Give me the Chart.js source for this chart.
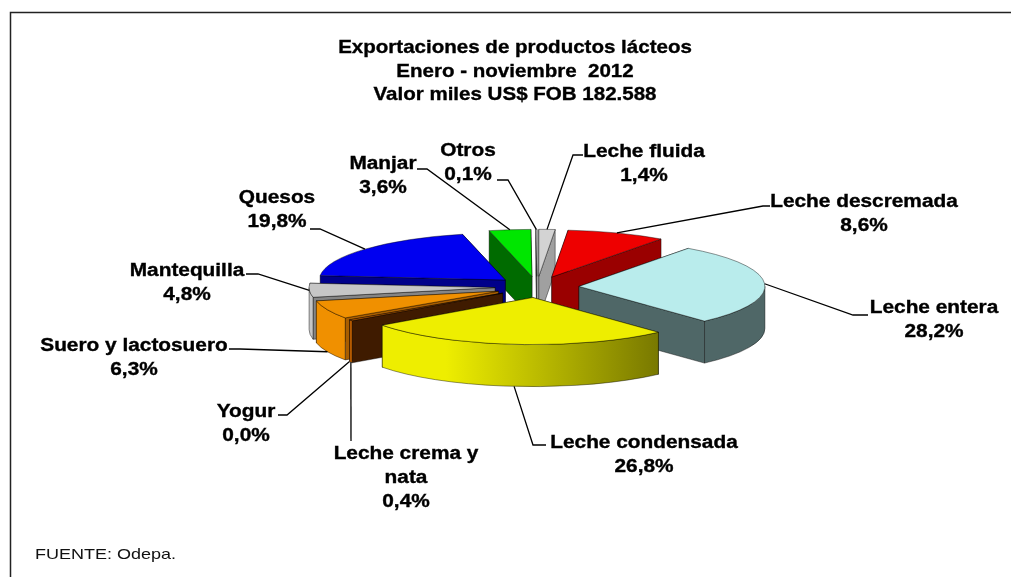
<!DOCTYPE html>
<html><head><meta charset="utf-8">
<script src="https://cdn.jsdelivr.net/npm/chart.js@4.4.1/dist/chart.umd.min.js"></script>
<style>html,body{margin:0;padding:0;background:#fff;overflow:hidden}canvas{display:block}</style>
</head><body>
<canvas id="c" width="1011" height="577"></canvas>
<script>
// ---- data ----
const titleLines = ['Exportaciones de productos lácteos', 'Enero - noviembre  2012', 'Valor miles US$ FOB 182.588'];
const categories = ['Leche fluida', 'Leche descremada', 'Leche entera', 'Leche condensada', 'Leche crema y\nnata', 'Yogur', 'Suero y lactosuero', 'Mantequilla', 'Quesos', 'Manjar', 'Otros'];
const shares = [1.4, 8.6, 28.2, 26.8, 0.4, 0.0, 6.3, 4.8, 19.8, 3.6, 0.1];
const sourceNote = 'FUENTE: Odepa.';

// ---- styles ----
const topColors  = ['#d3d3d3', '#ee0000', '#b9ecec', '#eeee00', '#b85c00', '#ffcc66', '#f09000', '#c6c6c6', '#0000f0', '#00e600', '#f4f4f4'];
const sideColors = ['#a0a0a0', '#9a0000', '#4f6767', '#6b6b00', '#3f1b00', '#996600', '#a85e00', '#858585', '#00008a', '#006b00', '#b0b0b0'];
const EDGE = 'rgba(0,0,0,0.6)';
const FONT = '"Liberation Sans", Arial, sans-serif';

// ---- layout ----
const PIE_RADIUS = 186, EXPLODE = 42, TILT = 0.253, DEPTH = 42;
const labelLayout = [
  { x: 644, y: 157, path: [[573, 155], [583, 155]] },
  { x: 864, y: 207, path: [[763, 206], [770, 206]] },
  { x: 934, y: 313, path: [[853, 315], [868, 315]] },
  { x: 644, y: 448, path: [[533, 445], [546, 445]] },
  { x: 406, y: 459, path: [[351, 441]] },
  { x: 246, y: 417, path: [[287, 415], [278, 415]] },
  { x: 134, y: 351, path: [[240, 349], [229, 349]] },
  { x: 187, y: 276, path: [[258, 274], [246, 274]] },
  { x: 277, y: 203, path: [[320, 229], [310, 229]] },
  { x: 383, y: 169, path: [[427, 169], [417, 169]] },
  { x: 468, y: 156, path: [[508, 180], [497, 180]] }
];

function pt(s, a, dz) {
  return [s.ox + s.outerRadius * Math.cos(a), s.oy + TILT * s.outerRadius * Math.sin(a) + dz];
}
function sliceGeom(arc, i) {
  const p = arc.getProps(['x', 'y', 'startAngle', 'endAngle', 'outerRadius'], true);
  const mid = (p.startAngle + p.endAngle) / 2;
  return { i, x: p.x, y: p.y, startAngle: p.startAngle, endAngle: p.endAngle, outerRadius: p.outerRadius, mid,
    ox: p.x + EXPLODE * Math.cos(mid), oy: p.y + TILT * EXPLODE * Math.sin(mid) };
}
function drawSlice(ctx, s) {
  const R = s.outerRadius, top = topColors[s.i], side = sideColors[s.i];
  ctx.save();
  ctx.lineJoin = 'round';
  ctx.strokeStyle = EDGE; ctx.lineWidth = 0.7;
  const walls = [
    { a: s.startAngle, front: Math.cos(s.startAngle) < 0 },
    { a: s.endAngle, front: Math.cos(s.endAngle) > 0 }
  ].sort((u, v) => (u.front ? 1 : 0) - (v.front ? 1 : 0));
  for (const w of walls) {
    const e0 = pt(s, w.a, 0), e1 = pt(s, w.a, DEPTH);
    ctx.beginPath();
    ctx.moveTo(s.ox, s.oy); ctx.lineTo(e0[0], e0[1]); ctx.lineTo(e1[0], e1[1]); ctx.lineTo(s.ox, s.oy + DEPTH);
    ctx.closePath();
    ctx.fillStyle = side; ctx.fill(); ctx.stroke();
  }
  const a0 = Math.max(s.startAngle, 0), a1 = Math.min(s.endAngle, Math.PI);
  if (a1 > a0) {
    const g = ctx.createLinearGradient(s.x - R - EXPLODE, 0, s.x + R + EXPLODE, 0);
    g.addColorStop(0, top); g.addColorStop(0.3, top); g.addColorStop(0.82, side); g.addColorStop(1, side);
    ctx.beginPath();
    ctx.ellipse(s.ox, s.oy, R, R * TILT, 0, a0, a1, false);
    ctx.ellipse(s.ox, s.oy + DEPTH, R, R * TILT, 0, a1, a0, true);
    ctx.closePath();
    ctx.fillStyle = g; ctx.fill(); ctx.stroke();
  }
  ctx.beginPath();
  ctx.moveTo(s.ox, s.oy);
  ctx.ellipse(s.ox, s.oy, R, R * TILT, 0, s.startAngle, s.endAngle, false);
  ctx.closePath();
  ctx.fillStyle = top; ctx.fill(); ctx.stroke();
  ctx.restore();
}
function stretchText(ctx, str, x, y, font, sx, align, heavy) {
  ctx.save();
  ctx.font = font;
  ctx.textAlign = align || 'center';
  ctx.textBaseline = 'alphabetic';
  ctx.translate(x, y); ctx.scale(sx, 1);
  ctx.fillText(str, 0, 0);
  if (heavy) { ctx.lineWidth = heavy; ctx.strokeStyle = ctx.fillStyle; ctx.strokeText(str, 0, 0); }
  ctx.restore();
}

const pie3d = {
  id: 'pie3d',
  beforeDatasetsDraw(chart) {
    const ctx = chart.ctx;
    const meta = chart.getDatasetMeta(0);
    const slices = meta.data.map(sliceGeom).filter(s => s.endAngle - s.startAngle > 1e-7);
    slices.sort((a, b) => a.oy - b.oy);
    for (const s of slices) drawSlice(ctx, s);
    return false;
  }
};

const overlay = {
  id: 'overlay',
  afterDraw(chart) {
    const ctx = chart.ctx;
    // frame
    ctx.save();
    ctx.strokeStyle = '#222'; ctx.lineWidth = 1.5;
    ctx.beginPath(); ctx.moveTo(10.5, 577); ctx.lineTo(10.5, 12.5); ctx.lineTo(1011, 12.5); ctx.stroke();
    ctx.restore();
    ctx.fillStyle = '#000';
    // title
    titleLines.forEach((t, k) => stretchText(ctx, t, 515, 53 + k * 23.5, 'bold 18.5px ' + FONT, 1.11, 'center', 0.35));
    // labels + leaders
    const meta = chart.getDatasetMeta(0);
    meta.data.forEach((arc, i) => {
      const s = sliceGeom(arc, i);
      const R = s.outerRadius + EXPLODE;
      const ax = s.x + R * Math.cos(s.mid);
      const ay = s.y + TILT * R * Math.sin(s.mid) + (Math.sin(s.mid) > 0.2 ? DEPTH : 0);
      const L = labelLayout[i];
      ctx.save();
      ctx.strokeStyle = '#000'; ctx.lineWidth = 1.3; ctx.lineJoin = 'miter';
      ctx.beginPath(); ctx.moveTo(ax, ay);
      L.path.forEach(p => ctx.lineTo(p[0], p[1]));
      ctx.stroke();
      ctx.restore();
      const lines = categories[i].split('\n');
      lines.push(shares[i].toFixed(1).replace('.', ',') + '%');
      ctx.fillStyle = '#000';
      lines.forEach((t, k) => stretchText(ctx, t, L.x, L.y + k * 24, 'bold 17.5px ' + FONT, 1.19, 'center', 0.35));
    });
    // source
    ctx.fillStyle = '#111';
    stretchText(ctx, sourceNote, 35, 559, '15px ' + FONT, 1.2, 'left');
  }
};

new Chart(document.getElementById('c'), {
  type: 'pie',
  data: { labels: categories, datasets: [{ data: shares, backgroundColor: topColors, radius: PIE_RADIUS, borderWidth: 0, offset: 0 }] },
  options: {
    responsive: false, animation: false, devicePixelRatio: 1, events: [],
    layout: { padding: { left: 63, right: 0, top: 0, bottom: 3 } },
    plugins: { legend: { display: false }, tooltip: { enabled: false }, title: { display: false } }
  },
  plugins: [pie3d, overlay]
});
</script>
</body></html>
